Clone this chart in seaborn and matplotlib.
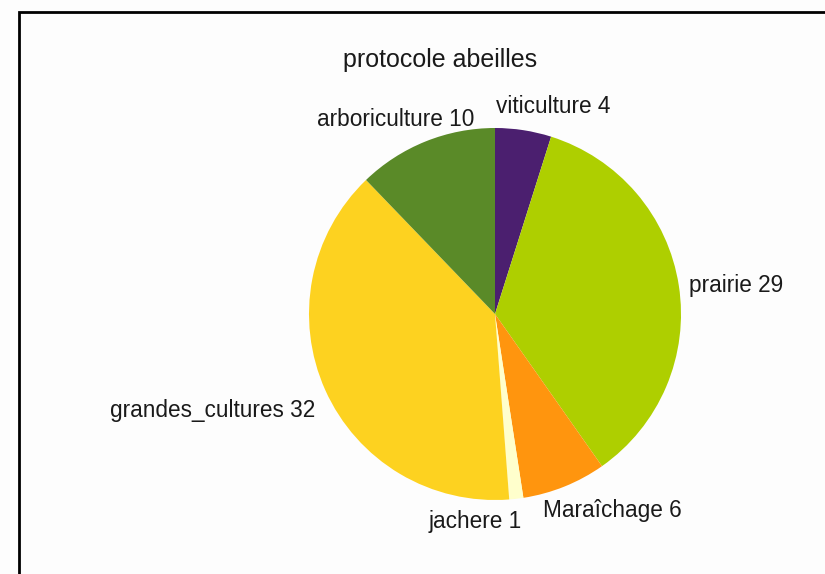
import numpy as np
import matplotlib
matplotlib.use("Agg")
import matplotlib.pyplot as plt
from matplotlib.patches import Rectangle
import seaborn as sns

# ---- data ----
categories = ["viticulture", "prairie", "Maraîchage", "jachere", "grandes_cultures", "arboriculture"]
values = [4, 29, 6, 1, 32, 10]
colors = ["#4b1f6f", "#aecf00", "#ff950e", "#ffffcc", "#fdd220", "#5a8a28"]
title = "protocole abeilles"

# label layout (alignment and pixel offsets from the rim point of each wedge)
label_ha = ["center", "left", "left", "right", "right", "right"]
label_off = [(30, 24), (10, 0), (-22, -24), (5, -23), (-10, -20), (49, 22)]

sns.set_theme(style="white")
plt.rcParams["font.family"] = ["Liberation Sans", "DejaVu Sans"]

fig = plt.figure(figsize=(8.25, 5.74), dpi=100, facecolor="#fdfdfd")
ax = fig.add_axes([309 / 825, 74 / 574, 372 / 825, 372 / 574])
ax.set_facecolor("none")

wedges, _ = ax.pie(values, colors=colors, startangle=90, counterclock=False,
                   radius=1.0, wedgeprops=dict(linewidth=0, antialiased=True))
ax.set_xlim(-1, 1)
ax.set_ylim(-1, 1)
ax.set_aspect("equal")
ax.axis("off")

for w, cat, val, ha, off in zip(wedges, categories, values, label_ha, label_off):
    ang = np.deg2rad((w.theta1 + w.theta2) / 2)
    xy = (np.cos(ang), np.sin(ang))
    ax.annotate(f"{cat} {val}", xy=xy, xytext=off, textcoords="offset pixels",
                ha=ha, va="center", fontsize=16.3, color="#1a1a1a",
                annotation_clip=False)

fig.text(440 / 825, 1 - 60 / 574, title, ha="center", va="center",
         fontsize=18, color="#1a1a1a")

fig.patches.append(Rectangle((19 / 825, -0.2), 1.2, 1.2 + (574 - 12) / 574 - 1.0 + 0.0,
                             transform=fig.transFigure, fill=False,
                             edgecolor="black", linewidth=2))

fig.savefig("out.png", dpi=100, facecolor=fig.get_facecolor())
